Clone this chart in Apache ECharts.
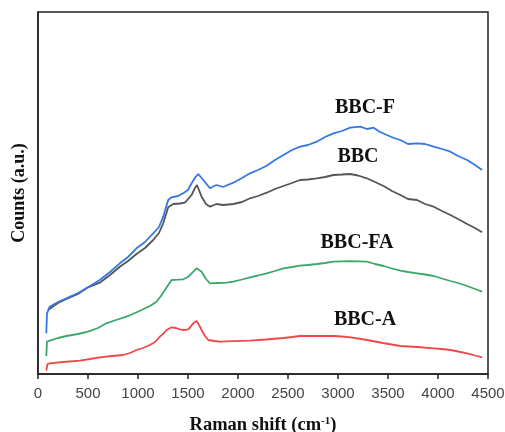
<!DOCTYPE html>
<html><head><meta charset="utf-8">
<script src="https://cdn.jsdelivr.net/npm/echarts@6/dist/echarts.min.js"></script>
<style>html,body{margin:0;padding:0;background:#fff}#c{width:505px;height:432px}</style>
</head><body><div id="c"></div>
<script>
var xTicks = [0, 500, 1000, 1500, 2000, 2500, 3000, 3500, 4000, 4500];
var seriesNames = ['BBC-F', 'BBC', 'BBC-FA', 'BBC-A'];

var bbcF_x = [83, 90, 117, 200, 284, 400, 500, 618, 720, 818, 900, 985, 1070, 1152, 1210, 1252, 1302, 1336, 1400, 1452, 1500, 1536, 1575, 1603, 1653, 1720, 1760, 1786, 1850, 1953, 2040, 2120, 2200, 2287, 2370, 2454, 2540, 2621, 2700, 2788, 2870, 2955, 3040, 3122, 3222, 3290, 3356, 3420, 3489, 3560, 3623, 3700, 3790, 3870, 3957, 4040, 4124, 4200, 4291, 4370, 4441];
var bbcF_y = [40.7, 60.7, 67.3, 72, 75.7, 81, 86.7, 94, 102, 110.7, 117, 125.7, 132, 140.7, 147, 157.3, 174, 176.7, 178, 180.7, 184, 190.7, 197, 200, 194, 185.7, 188, 189, 187, 191.3, 196, 200.7, 204, 208.3, 214, 219, 224, 227.3, 229, 232.3, 237, 240.7, 243, 246.3, 247.3, 245, 246.3, 242, 239, 236, 234, 230, 230.7, 230, 227.3, 225, 222.3, 218, 214, 209, 204];

var bbc_x = [100, 200, 284, 400, 500, 618, 720, 818, 900, 985, 1070, 1152, 1210, 1252, 1302, 1352, 1420, 1469, 1536, 1570, 1590, 1636, 1680, 1720, 1786, 1850, 1953, 2040, 2120, 2200, 2287, 2370, 2454, 2540, 2621, 2700, 2788, 2870, 2955, 3040, 3122, 3200, 3289, 3370, 3456, 3540, 3623, 3700, 3790, 3870, 3957, 4040, 4124, 4200, 4291, 4370, 4441];
var bbc_y = [64, 71, 75, 80, 86.7, 91.3, 99, 107.3, 113, 120, 126, 134, 141, 150.7, 166.7, 170, 170.5, 171.3, 179, 186, 189, 177.3, 170, 167.3, 170, 169, 170, 172, 175.7, 178, 181.3, 185, 188, 191, 194, 194.5, 195.7, 197, 199, 199.5, 200, 198.5, 195.7, 192, 188, 183, 179, 175, 174, 170, 167.3, 163, 159, 155, 150, 146, 141.7];

var bbcFA_x = [83, 90, 117, 200, 284, 400, 500, 600, 684, 780, 885, 970, 1052, 1120, 1185, 1230, 1269, 1336, 1400, 1452, 1500, 1536, 1586, 1636, 1680, 1720, 1800, 1887, 1953, 2040, 2120, 2200, 2287, 2370, 2454, 2540, 2621, 2700, 2788, 2870, 2955, 3120, 3289, 3370, 3456, 3540, 3623, 3700, 3790, 3870, 3957, 4040, 4124, 4200, 4291, 4370, 4441];
var bbcFA_y = [18, 32.3, 33.3, 36, 38, 40, 42.3, 46, 50.7, 54, 57.3, 61, 64.7, 68, 72.3, 78, 84, 94, 94.3, 94.7, 97, 100.7, 105.7, 102.3, 95, 90.7, 91, 91.3, 92.3, 94.5, 96.7, 98.5, 100.7, 103, 105.7, 107, 108.3, 109, 110, 111, 112.3, 112.8, 112.3, 110, 108, 105.5, 103.3, 102, 100.7, 99.5, 98, 95.5, 93, 91, 88, 85, 82.3];

var bbcA_x = [83, 95, 117, 250, 418, 520, 618, 740, 852, 920, 985, 1050, 1119, 1170, 1219, 1260, 1286, 1336, 1380, 1419, 1460, 1503, 1553, 1586, 1610, 1636, 1670, 1703, 1760, 1820, 1950, 2120, 2280, 2454, 2540, 2621, 2800, 2955, 3040, 3122, 3200, 3289, 3450, 3623, 3790, 3957, 4040, 4124, 4200, 4291, 4370, 4441];
var bbcA_y = [3.3, 10, 10.7, 12, 13.3, 15, 16.7, 18, 19, 21, 24, 26, 29, 32, 37.3, 41, 44, 46.7, 46, 44.7, 44, 44.7, 50.7, 53, 49, 44, 38, 34, 33, 32.3, 32.8, 33.3, 34.5, 36, 37, 38, 38.2, 38, 37.5, 36.7, 35.5, 34, 31, 28, 27, 25.7, 25, 24, 22.5, 20.7, 18.5, 16.7];

function pairs(xs, ys) { return xs.map(function (x, i) { return [x, ys[i]]; }); }

var colors = ['#3578e5', '#555555', '#3aa86a', '#f04848'];
var labels = [
  { text: 'BBC-F', x: 365, y: 108 },
  { text: 'BBC', x: 358, y: 157 },
  { text: 'BBC-FA', x: 357, y: 243 },
  { text: 'BBC-A', x: 365, y: 320 }
];

var chart = echarts.init(document.getElementById('c'), null, { renderer: 'canvas' });
var datasets = [pairs(bbcF_x, bbcF_y), pairs(bbc_x, bbc_y), pairs(bbcFA_x, bbcFA_y), pairs(bbcA_x, bbcA_y)];
var serif = '"Liberation Serif", "Times New Roman", serif';

chart.setOption({
  animation: false,
  backgroundColor: '#fff',
  grid: { left: 38, right: 17, top: 12, bottom: 58, outerBoundsMode: 'none', containLabel: false,
    show: true, borderColor: '#222', borderWidth: 1.5 },
  xAxis: {
    type: 'value', min: 0, max: 4500, interval: 500,
    axisLine: { show: true, lineStyle: { color: '#222', width: 1.5 } },
    axisTick: { show: true, inside: false, length: 5, lineStyle: { color: '#222', width: 1.5 } },
    axisLabel: { color: '#444', fontSize: 15, fontFamily: '"Liberation Sans", Arial, sans-serif', margin: 12,
      formatter: function (v) { return xTicks.indexOf(v) >= 0 ? String(v) : ''; } },
    splitLine: { show: false },
    name: '{b|Raman shift (cm}{s|-1}{b|)}',
    nameLocation: 'middle', nameGap: 42,
    nameTextStyle: { rich: {
      b: { fontFamily: serif, fontWeight: 'bold', fontSize: 18.5, color: '#111' },
      s: { fontFamily: serif, fontWeight: 'bold', fontSize: 11, color: '#111', verticalAlign: 'top', padding: [0, 0, 8, 0] }
    } }
  },
  yAxis: {
    type: 'value', min: 0, max: 362,
    axisLine: { show: true, lineStyle: { color: '#222', width: 1.5 } },
    axisTick: { show: false }, axisLabel: { show: false }, splitLine: { show: false },
    name: 'Counts (a.u.)', nameLocation: 'middle', nameGap: 10, nameRotate: 90,
    nameTextStyle: { fontFamily: serif, fontWeight: 'bold', fontSize: 18, color: '#111' }
  },
  series: seriesNames.map(function (n, i) {
    return { name: n, type: 'line', data: datasets[i], showSymbol: false, symbol: 'none',
      lineStyle: { color: colors[i], width: 1.8 }, z: 10 - i };
  }),
  graphic: labels.map(function (l) {
    return { type: 'text', x: l.x, y: l.y, style: { text: l.text, font: 'bold 20px ' + serif, fill: '#111', textAlign: 'center', textVerticalAlign: 'middle' } };
  })
});
</script></body></html>
